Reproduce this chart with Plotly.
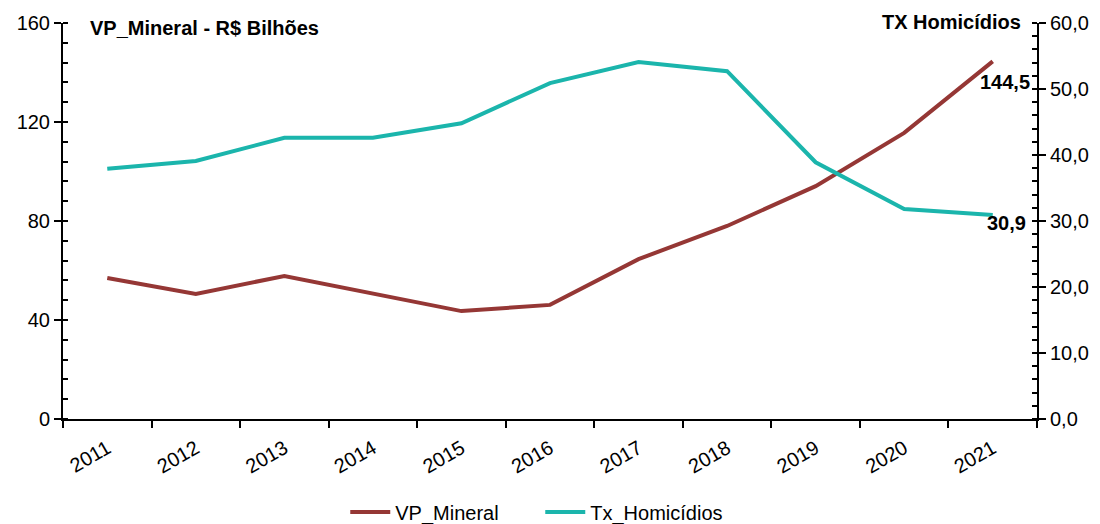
import plotly.graph_objects as go

# Production value of minerals (R$ billions) and homicide rate, 2011-2021
years = ["2011", "2012", "2013", "2014", "2015", "2016",
         "2017", "2018", "2019", "2020", "2021"]
vp_mineral = [57.0, 50.5, 57.8, 50.9, 43.6, 46.1, 64.6, 78.0, 94.1, 115.6, 144.5]
tx_homicidios = [37.9, 39.1, 42.6, 42.6, 44.8, 50.9, 54.1, 52.7, 38.9, 31.8, 30.9]

left_ticks = [0, 40, 80, 120, 160]
right_ticks = [0, 10, 20, 30, 40, 50, 60]

FONT = "Liberation Sans Narrow, Arial Narrow, Liberation Sans, Arial, sans-serif"
RED = "#953735"
TEAL = "#1BB5AC"

fig = go.Figure()
fig.add_trace(go.Scatter(
    x=years, y=vp_mineral, name="VP_Mineral", mode="lines",
    line=dict(color=RED, width=4), yaxis="y"))
fig.add_trace(go.Scatter(
    x=years, y=tx_homicidios, name="Tx_Homicídios", mode="lines",
    line=dict(color=TEAL, width=4), yaxis="y2"))


def fmt(v):
    return f"{v:.1f}".replace(".", ",")


last = len(years) - 1

# End-of-series value labels
fig.add_annotation(xref="x", yref="y", x=last, y=vp_mineral[-1],
                   text=f"<b>{fmt(vp_mineral[-1])}</b>",
                   showarrow=False, xanchor="center", yanchor="middle",
                   xshift=12, yshift=-21, font=dict(family=FONT, size=20, color="black"))
fig.add_annotation(xref="x", yref="y2", x=last, y=tx_homicidios[-1],
                   text=f"<b>{fmt(tx_homicidios[-1])}</b>",
                   showarrow=False, xanchor="center", yanchor="middle",
                   xshift=14, yshift=-8, font=dict(family=FONT, size=20, color="black"))

# Axis titles placed inside the plot area
fig.add_annotation(xref="paper", yref="paper", x=0.026, y=0.987,
                   text="<b>VP_Mineral - R$ Bilhões</b>", showarrow=False,
                   xanchor="left", yanchor="middle",
                   font=dict(family=FONT, size=20, color="black"))
fig.add_annotation(xref="paper", yref="paper", x=0.986, y=1.003,
                   text="<b>TX Homicídios</b>", showarrow=False,
                   xanchor="right", yanchor="middle",
                   font=dict(family=FONT, size=20, color="black"))

fig.update_layout(
    width=1100, height=524,
    margin=dict(l=63, r=63, t=23, b=105, autoexpand=False),
    paper_bgcolor="white", plot_bgcolor="white",
    separators=",.",
    font=dict(family=FONT, size=20, color="black"),
    showlegend=True,
    legend=dict(orientation="h", x=0.49, xanchor="center", y=-0.235, yanchor="middle",
                font=dict(family=FONT, size=20, color="black"),
                itemwidth=40, tracegroupgap=0, entrywidth=140),
    xaxis=dict(
        type="category", tickson="boundaries", showline=True, linecolor="black", linewidth=2,
        ticks="outside", ticklen=7, tickwidth=2, tickcolor="black", tickangle=-30,
        ticklabelstandoff=8,
        showgrid=False, zeroline=False, tickfont=dict(family=FONT, size=20),
        range=[-0.5, 10.5], automargin=False),
    yaxis=dict(
        range=[0, 160], tickvals=left_ticks, showline=True, linecolor="black", linewidth=2,
        ticks="outside", ticklen=7, tickwidth=2, tickcolor="black",
        showgrid=False, zeroline=False, tickfont=dict(family=FONT, size=20), automargin=False,
        minor=dict(dtick=8, ticks="inside", ticklen=5, tickwidth=2, tickcolor="black", showgrid=False)),
    yaxis2=dict(
        range=[0, 60], tickvals=right_ticks, tickformat=".1f", overlaying="y", side="right",
        showline=True, linecolor="black", linewidth=2,
        ticks="outside", ticklen=7, tickwidth=2, tickcolor="black",
        showgrid=False, zeroline=False, tickfont=dict(family=FONT, size=20), automargin=False,
        minor=dict(dtick=2, ticks="inside", ticklen=5, tickwidth=2, tickcolor="black", showgrid=False)),
)

fig.write_html("out.html")
